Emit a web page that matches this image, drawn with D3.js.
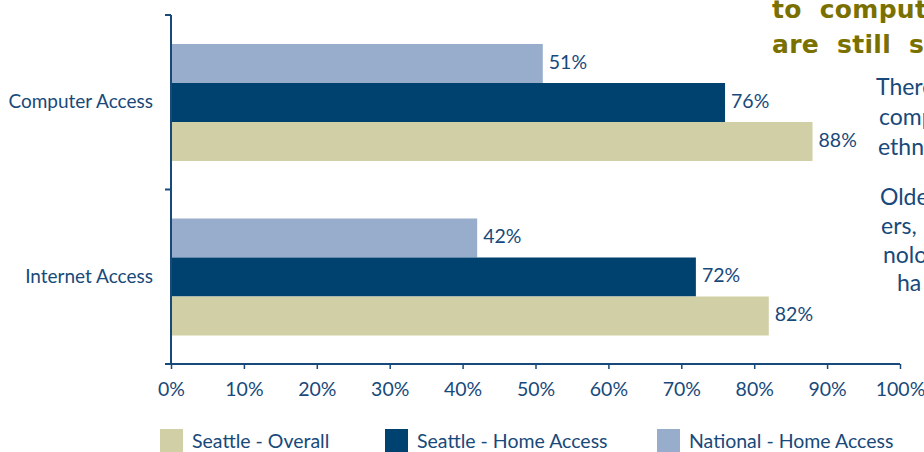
<!DOCTYPE html>
<html>
<head>
<meta charset="utf-8">
<script src="https://cdn.jsdelivr.net/npm/d3@7"></script>
<style>
  body { margin: 0; background: #fff; }
  svg { display: block; font-family: Lato, "Open Sans", sans-serif; }
</style>
</head>
<body>
<svg width="924" height="452"></svg>
<script>
var categories = ["Computer Access", "Internet Access"]
var seriesNames = ["National - Home Access", "Seattle - Home Access", "Seattle - Overall"]
var national = [51, 42]
var seattleHome = [76, 72]
var seattleOverall = [88, 82]
var xTicks = [0, 10, 20, 30, 40, 50, 60, 70, 80, 90, 100]
var legendOrder = ["Seattle - Overall", "Seattle - Home Access", "National - Home Access"]

var colors = {
    "Seattle - Overall": "#D1CFA6",
    "Seattle - Home Access": "#00426F",
    "National - Home Access": "#97ADCB"
}
var ink = "#17497A"

var svg = d3.select("svg")

var x = d3.scaleLinear().domain([0, 100]).range([171, 900])
var y = d3.scaleBand().domain(categories).range([15, 364])
var inner = d3.scaleBand().domain(seriesNames).range([29, 146]).padding(0)

// rows of data
var rows = []
categories.forEach(function(c, i) {
    var vals = [national[i], seattleHome[i], seattleOverall[i]]
    seriesNames.forEach(function(s, j) {
        rows.push({ cat: c, series: s, value: vals[j] })
    })
})

svg.selectAll("rect.bar").data(rows).enter().append("rect")
    .attr("class", "bar")
    .attr("x", x(0) + 1)
    .attr("y", function(d) { return y(d.cat) + inner(d.series) })
    .attr("width", function(d) { return x(d.value) - x(0) - 1 })
    .attr("height", inner.bandwidth())
    .attr("fill", function(d) { return colors[d.series] })

svg.selectAll("text.val").data(rows).enter().append("text")
    .attr("class", "val")
    .attr("x", function(d) { return x(d.value) + 6 })
    .attr("y", function(d) { return y(d.cat) + inner(d.series) + inner.bandwidth() / 2 - 2 })
    .attr("dy", "0.36em")
    .attr("font-size", 19.5)
    .attr("fill", ink)
    .text(function(d) { return d.value + "%" })

// x axis
var xAxis = svg.append("g")
    .attr("transform", "translate(0,364)")
    .call(d3.axisBottom(x).tickValues(xTicks).tickSize(5).tickPadding(13)
        .tickFormat(function(d) { return d + "%" }))
xAxis.select(".domain").remove()
xAxis.append("line").attr("x1", 165).attr("x2", 900).attr("stroke", ink).attr("stroke-width", 2)
xAxis.selectAll(".tick line").attr("stroke", ink).attr("stroke-width", 1.5)
xAxis.selectAll(".tick text").attr("fill", ink).attr("font-size", 19.5).attr("font-family", "Lato")

// y axis
svg.append("line").attr("x1", 171).attr("x2", 171).attr("y1", 15).attr("y2", 365)
    .attr("stroke", ink).attr("stroke-width", 2)
var yTickPos = [15, y(categories[1]), 364]
svg.selectAll("line.ytick").data(yTickPos).enter().append("line")
    .attr("class", "ytick")
    .attr("x1", 165).attr("x2", 171)
    .attr("y1", function(d) { return d }).attr("y2", function(d) { return d })
    .attr("stroke", ink).attr("stroke-width", 2)

svg.selectAll("text.cat").data(categories).enter().append("text")
    .attr("class", "cat")
    .attr("x", 153)
    .attr("y", function(d) { return y(d) + y.bandwidth() / 2 - 1 })
    .attr("dy", "0.36em")
    .attr("text-anchor", "end")
    .attr("font-size", 19)
    .attr("fill", ink)
    .text(function(d) { return d })

// legend
var legendX = [160, 385, 657]
var lg = svg.selectAll("g.leg").data(legendOrder).enter().append("g")
    .attr("class", "leg")
    .attr("transform", function(d, i) { return "translate(" + legendX[i] + ",429)" })
lg.append("rect").attr("width", 23).attr("height", 23).attr("fill", function(d) { return colors[d] })
lg.append("text").attr("x", 32).attr("y", 12).attr("dy", "0.36em")
    .attr("font-size", 19.5).attr("fill", ink)
    .text(function(d) { return d })

// slide text cut off at the right edge
var headline = [["to comput", 18], ["are still si", 53]]
svg.selectAll("text.head").data(headline).enter().append("text")
    .attr("class", "head")
    .attr("x", 772).attr("y", function(d) { return d[1] })
    .attr("font-size", 25).attr("font-weight", "bold")
    .attr("fill", "#7A7000").attr("letter-spacing", 0.3).attr("word-spacing", 9)
    .attr("font-family", "'DejaVu Sans', sans-serif")
    .text(function(d) { return d[0] })

var body = [["There", 876, 95], ["comp", 879, 125], ["ethn", 878, 155],
            ["Olde", 880, 205], ["ers,", 881, 234], ["nolo", 883, 263], ["ha", 897, 291]]
svg.selectAll("text.body").data(body).enter().append("text")
    .attr("class", "body")
    .attr("x", function(d) { return d[1] }).attr("y", function(d) { return d[2] })
    .attr("font-size", 23).attr("fill", ink)
    .text(function(d) { return d[0] })
</script>
</body>
</html>
